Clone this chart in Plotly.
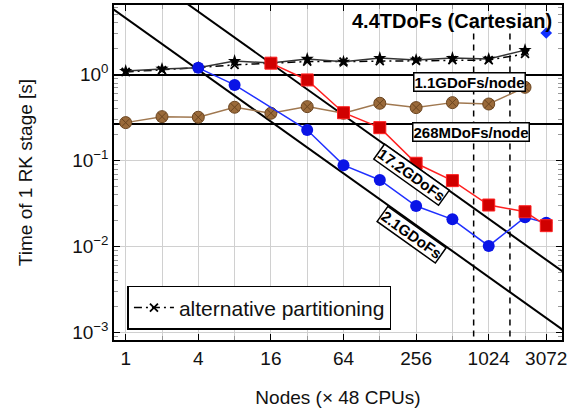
import plotly.graph_objects as go

# ---------------- data ----------------
nodes = [1, 2, 4, 8, 16, 32, 64, 128, 256, 512, 1024, 2048]
cart_time = [1.10, 1.165, 1.20, 1.44, 1.37, 1.52, 1.41, 1.56, 1.48, 1.56, 1.52, 1.93]
alt_time = [1.075, 1.13, 1.21, 1.30, 1.36, 1.42, 1.42, 1.44, 1.46, 1.48, 1.48, 1.74]
brown_time = [0.277, 0.325, 0.32, 0.418, 0.356, 0.425, 0.356, 0.465, 0.414, 0.473, 0.456, 0.713]

blue_nodes = [4, 8, 32, 64, 128, 256, 512, 1024, 2048, 3072]
blue_time = [1.20, 0.76, 0.227, 0.0887, 0.0597, 0.0297, 0.0208, 0.0102, 0.022, 0.019]

red_nodes = [16, 32, 64, 128, 256, 512, 1024, 2048, 3072]
red_time = [1.36, 0.868, 0.361, 0.242, 0.0933, 0.0586, 0.0305, 0.0255, 0.01755]

diamond_nodes = [3072]
diamond_time = [3.05]

ideal_consts = [4.55, 21.6]          # t = c / nodes
ideal_labels = ["2.1GDoFs", "17.2GDoFs"]
hline_vals = [0.99, 0.267]
hline_labels = ["1.1GDoFs/node", "268MDoFs/node"]
vline_nodes = [768, 1536]

xtick_vals = [1, 4, 16, 64, 256, 1024, 3072]
xminor_vals = [2, 8, 32, 128, 512, 2048]
ytick_vals = [1e-3, 1e-2, 1e-1, 1]
ytick_text = ["10<sup>\u22123</sup>", "10<sup>\u22122</sup>", "10<sup>\u22121</sup>", "10<sup>0</sup>"]

FONT = "Liberation Sans, Arial, sans-serif"

fig = go.Figure()

# ideal scaling lines
xx = [0.5, 6000]
for c in ideal_consts:
    fig.add_trace(go.Scatter(x=xx, y=[c / v for v in xx], mode="lines",
                             line=dict(color="black", width=2), showlegend=False, hoverinfo="skip"))
# horizontal reference lines
for h in hline_vals:
    fig.add_trace(go.Scatter(x=xx, y=[h, h], mode="lines",
                             line=dict(color="black", width=2), showlegend=False, hoverinfo="skip"))
# vertical dashed lines
for v in vline_nodes:
    fig.add_trace(go.Scatter(x=[v, v], y=[5e-4, 3.5], mode="lines",
                             line=dict(color="black", width=1.5, dash="6px,5px"),
                             showlegend=False, hoverinfo="skip"))

# brown series
fig.add_trace(go.Scatter(x=nodes, y=brown_time, mode="lines+markers",
                         line=dict(color="#a07850", width=1.5),
                         marker=dict(symbol="circle-x", size=12, color="#9a6a3a",
                                     line=dict(color="#6b4520", width=1)),
                         showlegend=False))
# alternative partitioning
fig.add_trace(go.Scatter(x=nodes, y=alt_time, mode="lines+markers", name="alternative partitioning",
                         line=dict(color="black", width=1.5, dash="8px,4px,2px,4px"),
                         marker=dict(symbol="x-thin", size=8, color="black",
                                     line=dict(color="black", width=1.8)),
                         showlegend=True))
# cartesian weak scaling
fig.add_trace(go.Scatter(x=nodes, y=cart_time, mode="lines+markers",
                         line=dict(color="#333333", width=1.5),
                         marker=dict(symbol="star", size=10, color="black"),
                         showlegend=False))
# blue series
fig.add_trace(go.Scatter(x=blue_nodes, y=blue_time, mode="lines+markers",
                         line=dict(color="#2030ff", width=1.5),
                         marker=dict(symbol="circle", size=12, color="#0a14e6"),
                         showlegend=False))
# red series
fig.add_trace(go.Scatter(x=red_nodes, y=red_time, mode="lines+markers",
                         line=dict(color="#ff2020", width=1.5),
                         marker=dict(symbol="square", size=12, color="#d00000",
                                     line=dict(color="#ff2020", width=1)),
                         showlegend=False))
# diamond
fig.add_trace(go.Scatter(x=diamond_nodes, y=diamond_time, mode="markers",
                         marker=dict(symbol="diamond", size=9, color="#1030ff"),
                         showlegend=False))

ann = []
# rotated ideal labels
for lbl, (px, py) in zip(ideal_labels, [(2.374, -1.864), (2.374, -1.166)]):
    ann.append(dict(x=px, y=py, xref="x", yref="y", text="<b>" + lbl + "</b>", showarrow=False,
                    textangle=35.5, font=dict(size=15, color="black", family=FONT),
                    bgcolor="white", bordercolor="black", borderwidth=1.5, borderpad=0))
for lbl, (px, py) in zip(hline_labels, [(2.855, -0.085), (2.863, -0.666)]):
    ann.append(dict(x=px, y=py, xref="x", yref="y", text="<b>" + lbl + "</b>", showarrow=False,
                    font=dict(size=15, color="black", family=FONT),
                    bgcolor="white", bordercolor="black", borderwidth=1.5, borderpad=0))
ann.append(dict(x=2.706, y=0.624, xref="x", yref="y", text="<b>4.4TDoFs (Cartesian)</b>",
                showarrow=False, font=dict(size=20, color="black", family=FONT)))

fig.update_layout(
    width=571, height=408,
    margin=dict(l=114, r=9, t=5, b=68, autoexpand=False),
    plot_bgcolor="white", paper_bgcolor="white",
    font=dict(family=FONT, size=19, color="#111111"),
    annotations=ann,
    legend=dict(x=0.03, y=0.03, xanchor="left", yanchor="bottom",
                bgcolor="white", bordercolor="black", borderwidth=1.5,
                font=dict(size=21, color="#111111"), itemwidth=40),
    xaxis=dict(type="log", range=[-0.097, 3.618], tickvals=xtick_vals,
               ticktext=[str(v) for v in xtick_vals], automargin=False,
               showgrid=True, gridcolor="#d0d0d0", gridwidth=1,
               ticks="inside", ticklen=6, tickcolor="black",
               showline=True, linecolor="black", linewidth=1.5, mirror="ticks",
               zeroline=False,
               minor=dict(tickvals=xminor_vals, showgrid=True, gridcolor="#d0d0d0",
                          ticks="inside", ticklen=4, tickcolor="#999999"),
               title=dict(text="Nodes (\u00d7 48 CPUs)", standoff=24, font=dict(size=19)),
               tickfont=dict(size=19)),
    yaxis=dict(type="log", range=[-3.085, 0.81], tickvals=ytick_vals, ticktext=ytick_text,
               automargin=False,
               showgrid=True, gridcolor="#d0d0d0", gridwidth=1,
               ticks="inside", ticklen=6, tickcolor="black",
               showline=True, linecolor="black", linewidth=1.5, mirror="ticks",
               zeroline=False,
               minor=dict(dtick="D1", ticks="inside", ticklen=4, tickcolor="#999999", showgrid=False),
               title=dict(text="Time of 1 RK stage [s]", standoff=34, font=dict(size=19)),
               tickfont=dict(size=19)),
)

fig.write_html("out.html", config={"displayModeBar": False},
               post_script="document.body.style.margin='0';document.body.style.overflow='hidden';")
